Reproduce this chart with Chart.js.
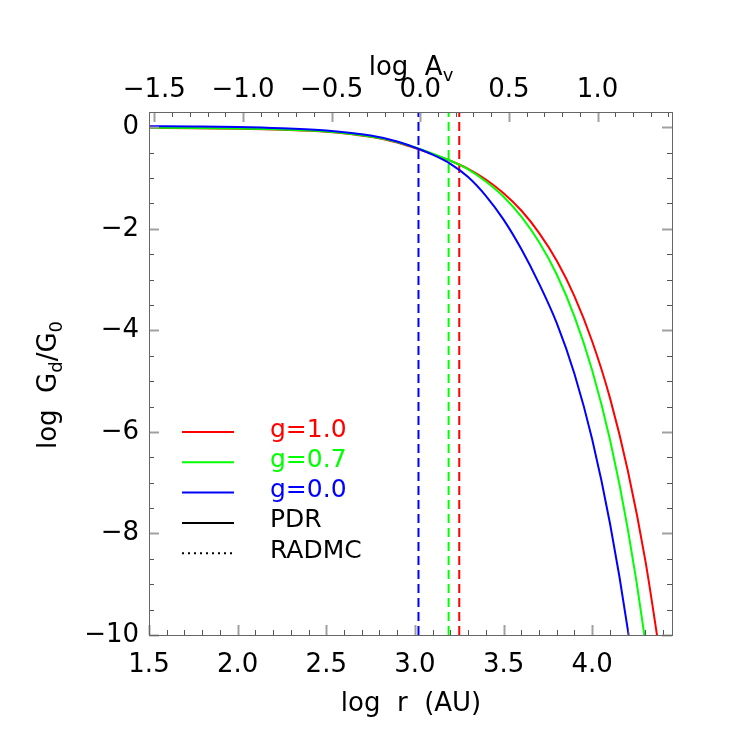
<!DOCTYPE html>
<html>
<head>
<meta charset="utf-8">
<script src="https://cdn.jsdelivr.net/npm/chart.js@4.4.1/dist/chart.umd.min.js"></script>
<style>
  html, body { margin: 0; padding: 0; background: #fff; }
</style>
</head>
<body>
<canvas id="chart" width="747" height="747"></canvas>
<script>
// sample positions in log r (AU)
const logR = [1.5, 1.75, 2.0, 2.25, 2.5, 2.75, 2.9, 3.0, 3.1, 3.2, 3.3, 3.4, 3.5, 3.6, 3.7, 3.8, 3.9, 4.0, 4.1, 4.2, 4.3, 4.4]

// log Gd/G0 for the three g values
const gRed   = [-0.015, -0.02, -0.03, -0.05, -0.09, -0.19, -0.30, -0.41, -0.53, -0.66, -0.82, -1.03, -1.30, -1.64, -2.08, -2.63, -3.33, -4.22, -5.33, -6.75, -8.54, -10.81]
const gGreen = [-0.01, -0.015, -0.025, -0.045, -0.085, -0.185, -0.29, -0.40, -0.52, -0.66, -0.83, -1.07, -1.37, -1.76, -2.26, -2.90, -3.73, -4.79, -6.15, -7.90, -10.15, -13.04]
const gBlue  = [0.02, 0.015, 0.005, -0.02, -0.065, -0.165, -0.28, -0.40, -0.54, -0.72, -0.98, -1.35, -1.82, -2.40, -3.08, -3.86, -4.86, -6.15, -7.80, -9.88, -12.53, -15.6]

// dashed markers (log r)
const markRed = 3.25
const markGreen = 3.19
const markBlue = 3.02

// axes
const xMin = 1.5, xMax = 4.45
const yMin = -10, yMax = 0.3
const avOffset = 3.03 // log Av = log r - avOffset
const xTickVals = [1.5, 2.0, 2.5, 3.0, 3.5, 4.0]
const xTickLabels = ['1.5', '2.0', '2.5', '3.0', '3.5', '4.0']
const avTickVals = [-1.5, -1.0, -0.5, 0.0, 0.5, 1.0]
const avTickLabels = ['\u22121.5', '\u22121.0', '\u22120.5', '0.0', '0.5', '1.0']
const yTickVals = [0, -2, -4, -6, -8, -10]
const yTickLabels = ['0', '\u22122', '\u22124', '\u22126', '\u22128', '\u221210']

const legendLabels = ['g=1.0', 'g=0.7', 'g=0.0', 'PDR', 'RADMC']
const legendColors = ['#ff0000', '#00ff00', '#0000ff', '#000000', '#000000']
const legendDash = [[], [], [], [], [2, 4]]

const FONT = 'DejaVu Sans'

function pts(ys) {
  return logR.map((x, i) => ({ x: x, y: ys[i] }))
}
function vline(x) {
  return [{ x: x, y: yMin }, { x: x, y: yMax }]
}

// draws the IDL style frame, inward ticks, titles and legend
const framePlugin = {
  id: 'frame',
  afterDraw(chart) {
    const ctx = chart.ctx
    const a = chart.chartArea
    const xs = chart.scales.x, xt = chart.scales.xTop, ys = chart.scales.y
    ctx.save()

    function tick(x1, y1, x2, y2, major) {
      ctx.beginPath()
      ctx.strokeStyle = major ? '#a0a0a0' : '#555555'
      ctx.lineWidth = major ? 2 : 1
      ctx.moveTo(x1, y1)
      ctx.lineTo(x2, y2)
      ctx.stroke()
    }

    // bottom ticks
    for (let i = 0; i <= 30; i++) {
      const v = xMin + i * 0.1
      if (v > xMax) break
      const px = Math.round(xs.getPixelForValue(v)) + 0.5
      const major = i % 5 === 0
      tick(px, a.bottom, px, a.bottom - (major ? 10 : 5), major)
    }
    // top ticks
    for (let i = 0; i <= 30; i++) {
      const v = avTickVals[0] + i * 0.1
      if (v > xMax - avOffset) break
      const px = Math.round(xt.getPixelForValue(v)) + 0.5
      const major = i % 5 === 0
      tick(px, a.top, px, a.top + (major ? 10 : 5), major)
    }
    // left / right ticks
    for (let i = 0; i <= 20; i++) {
      const v = -i * 0.5
      const py = Math.round(ys.getPixelForValue(v)) + 0.5
      const major = i % 4 === 0
      const len = major ? 10 : 5
      tick(a.left, py, a.left + len, py, major)
      tick(a.right, py, a.right - len, py, major)
    }

    ctx.strokeStyle = '#666666'
    ctx.lineWidth = 1
    ctx.strokeRect(Math.round(a.left) + 0.5, Math.round(a.top) + 0.5, Math.round(a.right - a.left), Math.round(a.bottom - a.top))

    // titles
    ctx.fillStyle = '#000'
    ctx.textBaseline = 'alphabetic'
    const big = '26px "' + FONT + '"'
    const small = '18px "' + FONT + '"'

    function richWidth(parts) {
      let w = 0
      parts.forEach(p => {
        ctx.font = p.sub ? small : big
        w += ctx.measureText(p.t).width
      })
      return w
    }
    function richDraw(parts, cx, base) {
      let x = cx - richWidth(parts) / 2
      parts.forEach(p => {
        ctx.font = p.sub ? small : big
        ctx.fillText(p.t, x, base + (p.sub ? 6 : 0))
        x += ctx.measureText(p.t).width
      })
    }

    ctx.textAlign = 'left'
    richDraw([{ t: 'log  A' }, { t: 'v', sub: true }], 411, 75)
    richDraw([{ t: 'log  r  (AU)' }], 411, 711)

    ctx.save()
    ctx.translate(56, 385)
    ctx.rotate(-Math.PI / 2)
    richDraw([{ t: 'log  G' }, { t: 'd', sub: true }, { t: '/G' }, { t: '0', sub: true }], 0, 0)
    ctx.restore()

    // legend
    ctx.font = '25px "' + FONT + '"'
    ctx.textBaseline = 'middle'
    legendLabels.forEach((lab, i) => {
      const y = 432 + i * 30.3
      ctx.beginPath()
      ctx.setLineDash(legendDash[i])
      ctx.strokeStyle = legendColors[i]
      ctx.lineWidth = 2
      ctx.moveTo(182, y)
      ctx.lineTo(234, y)
      ctx.stroke()
      ctx.setLineDash([])
      ctx.fillStyle = legendColors[i]
      ctx.fillText(lab, 270, y - 2)
    })

    ctx.restore()
  }
}

const lineBase = { showLine: true, pointRadius: 0, borderWidth: 2, fill: false, clip: 0 }

const chart = new Chart(document.getElementById('chart').getContext('2d'), {
  type: 'scatter',
  data: {
    datasets: [
      Object.assign({ label: 'g=0.0', data: pts(gBlue), borderColor: '#0000ff', cubicInterpolationMode: 'monotone', order: 0 }, lineBase),
      Object.assign({ label: 'g=0.7', data: pts(gGreen), borderColor: '#00ff00', cubicInterpolationMode: 'monotone', order: 1 }, lineBase),
      Object.assign({ label: 'g=1.0', data: pts(gRed), borderColor: '#ff0000', cubicInterpolationMode: 'monotone', order: 2 }, lineBase),
      Object.assign({ label: 'mark blue', data: vline(markBlue), borderColor: '#0000ff', borderDash: [9, 5], order: 3 }, lineBase),
      Object.assign({ label: 'mark green', data: vline(markGreen), borderColor: '#00ff00', borderDash: [9, 5], order: 3 }, lineBase),
      Object.assign({ label: 'mark red', data: vline(markRed), borderColor: '#ff0000', borderDash: [9, 5], order: 3 }, lineBase),
    ],
  },
  options: {
    responsive: false,
    animation: false,
    layout: { padding: { left: 0, right: 75, top: 0, bottom: 0 } },
    plugins: {
      legend: { display: false },
      tooltip: { enabled: false },
    },
    scales: {
      x: {
        type: 'linear',
        position: 'bottom',
        min: xMin,
        max: xMax,
        grid: { display: false, drawTicks: false },
        border: { display: false },
        afterBuildTicks: (s) => { s.ticks = xTickVals.map(v => ({ value: v })) },
        afterFit: (s) => { s.height = 112 },
        ticks: {
          autoSkip: false,
          maxRotation: 0,
          padding: 15,
          color: '#000',
          font: { family: FONT, size: 26 },
          callback: (v, i) => xTickLabels[i],
        },
      },
      xTop: {
        type: 'linear',
        position: 'top',
        min: xMin - avOffset,
        max: xMax - avOffset,
        grid: { display: false, drawTicks: false },
        border: { display: false },
        afterBuildTicks: (s) => { s.ticks = avTickVals.map(v => ({ value: v })) },
        afterFit: (s) => { s.height = 112 },
        ticks: {
          autoSkip: false,
          maxRotation: 0,
          padding: 6,
          color: '#000',
          font: { family: FONT, size: 26 },
          callback: (v, i) => avTickLabels[i],
        },
      },
      y: {
        type: 'linear',
        position: 'left',
        min: yMin,
        max: yMax,
        grid: { display: false, drawTicks: false },
        border: { display: false },
        afterBuildTicks: (s) => { s.ticks = yTickVals.map(v => ({ value: v })) },
        afterFit: (s) => { s.width = 149 },
        ticks: {
          autoSkip: false,
          padding: 10,
          color: '#000',
          font: { family: FONT, size: 26 },
          callback: (v, i) => yTickLabels[i],
        },
      },
    },
  },
  plugins: [framePlugin],
})
</script>
</body>
</html>
